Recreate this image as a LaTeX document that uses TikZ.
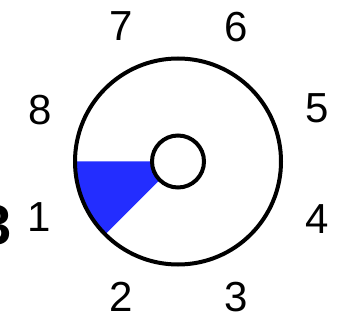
\documentclass[tikz,border=0pt]{standalone}
\usepackage{fontspec}
\setmainfont{Liberation Sans}
\definecolor{sectorblue}{RGB}{35,45,255}
\begin{document}
\begin{tikzpicture}[x=1pt,y=-1pt,
  digit/.style={font=\fontsize{42}{50}\selectfont, inner sep=0pt},
  ring/.style={circle, draw=black, line width=4pt, inner sep=0pt}]
\useasboundingbox (0,0) rectangle (342,320);
\clip (0,0) rectangle (342,320);
\fill[white] (0,0) rectangle (342,320);
\coordinate (c) at (178,161.5);
\fill[sectorblue] (c) -- ++(180:103) arc[start angle=180, end angle=135, radius=103] -- cycle;
\node[ring, minimum size=206pt] (outer) at (c) {};
\node[ring, fill=white, minimum size=52pt] (hub) at (c) {};
\node[digit] (n7) at (121,26) {7};
\node[digit] (n6) at (236,27) {6};
\node[digit] (n8) at (40,110) {8};
\node[digit] (n5) at (317,108) {5};
\node[digit] (n1) at (39,217) {1};
\node[digit] (n4) at (317,219) {4};
\node[digit] (n2) at (121,297) {2};
\node[digit] (n3) at (236,297) {3};
\node[font=\bfseries\fontsize{56}{60}\selectfont, inner sep=0pt] (big) at (-4,225) {3};
\end{tikzpicture}
\end{document}
